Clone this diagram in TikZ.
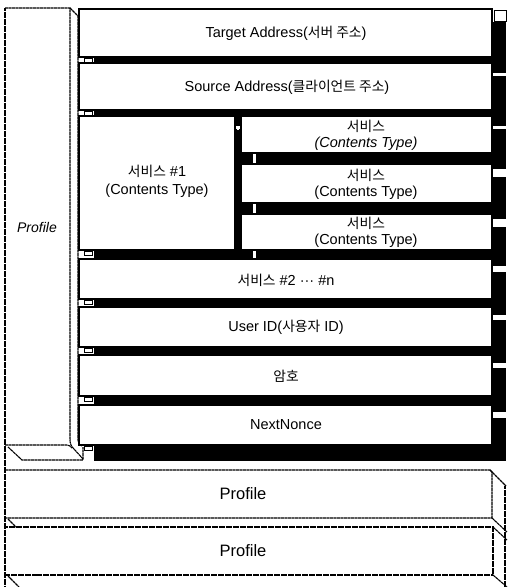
\documentclass[tikz,border=0pt]{standalone}
\usepackage{fontspec}
\setmainfont{Liberation Sans}
\newfontfamily\kr{Noto Sans CJK KR}[Scale=0.95]
\begin{document}
\begin{tikzpicture}[x=1pt,y=-1pt,
  boxline/.style={draw=black,line width=1.4pt,fill=white},
  shadowfill/.style={fill=black,draw=white,line width=1pt},
  pline/.style={draw=black,line width=1.1pt,dash pattern=on 3pt off 0.5pt},
  thin/.style={draw=black,line width=1pt},
  lab/.style={font=\fontsize{14.5}{17}\selectfont,align=center,inner sep=0pt},
  plab/.style={font=\fontsize{16.5}{19}\selectfont,inner sep=0pt}]
\useasboundingbox (0,0) rectangle (507,587);
\fill[white] (0,0) rectangle (507,587);

% ---- shadows (offset right/down) ----
\foreach \xa/\ya/\xb/\yb in {79/9/492/57, 79/63/492/110, 79/116/239/250,
   241/116/492/153, 241/164/492/203, 241/214/492/250, 79/259/492/299,
   79/307/492/347, 79/355/492/396, 79/405/492/445}
  \path[shadowfill] (\xa+14,\ya+12) rectangle (\xb+14,\yb+16);

% ---- boxes ----
\path[boxline] (79,9) rectangle (492,57);
\path[boxline] (79,63) rectangle (492,110);
\path[boxline] (79,116) rectangle (235,250);
\path[boxline] (241,116) rectangle (492,153);
\path[boxline] (241,164) rectangle (492,203);
\path[boxline] (241,214) rectangle (492,250);
\path[boxline] (79,259) rectangle (492,299);
\path[boxline] (79,307) rectangle (492,347);
\path[boxline] (79,355) rectangle (492,396);
\path[boxline] (79,405) rectangle (492,445);

% small gaps at left of bars
\foreach \y in {57,110,250,299,347,396,445}
  \draw[thin,fill=white] (84,\y+1) rectangle (92,\y+5);
\fill[white] (236.5,126) rectangle (238.5,130);
\draw[thin] (494,10) rectangle (506,21);

% ---- left Profile column (3D) ----
\draw[pline] (5,8) -- (70,8) -- (70,440) to[out=-90,in=135] (74,449) -- (83,459);
\draw[pline] (70,8) -- (78,16) -- (78,440) to[out=-90,in=180] (82,446);
\draw[pline] (5,8) -- (5,587);
\draw[pline] (5,445) -- (67,445) to[out=0,in=135] (72,448);
\draw[pline] (8,447) -- (22,460) -- (83,460) -- (83,447);

% ---- bottom Profile slabs ----
\draw[pline] (5,470) -- (490,470) -- (492,472) -- (492,518) -- (5,518);
\draw[pline] (490,470) -- (506,486);
\draw[pline] (492,518) -- (507,532);
\draw[pline] (8,519) -- (16,527);
\draw[pline] (5,527) -- (493,527) -- (493,575) -- (5,575);
\draw[pline] (493,527) -- (507,540);
\draw[pline] (493,575) -- (507,587);
\draw[pline] (8,576) -- (19,587);
\draw[pline] (505,486) -- (505,587);

% ---- labels ----
\node[lab] (tgt) at (286,33) {Target Address({\kr 서버 주소})};
\node[lab] (src) at (287,87) {Source Address({\kr 클라이언트 주소})};
\node[lab] (s1) at (157,181) {{\kr 서비스} \#1\\[1pt](Contents Type)};
\node[lab] (r1) at (366,135) {{\kr 서비스}\\[-1pt]\itshape (Contents Type)};
\node[lab] (r2) at (366,184) {{\kr 서비스}\\[-1pt](Contents Type)};
\node[lab] (r3) at (366,232) {{\kr 서비스}\\[-1pt](Contents Type)};
\node[lab] (s2) at (286,280) {{\kr 서비스} \#2 ··· \#n};
\node[lab] (uid) at (286,327) {User ID({\kr 사용자} ID)};
\node[lab] (pw) at (286,376) {{\kr 암호}};
\node[lab] (nn) at (286,425) {NextNonce};
\node[lab,font=\fontsize{14}{16}\selectfont\itshape] (pl) at (37,227) {Profile};
\node[plab] (p1) at (243,494) {Profile};
\node[plab] (p2) at (243,551) {Profile};
\end{tikzpicture}
\end{document}
